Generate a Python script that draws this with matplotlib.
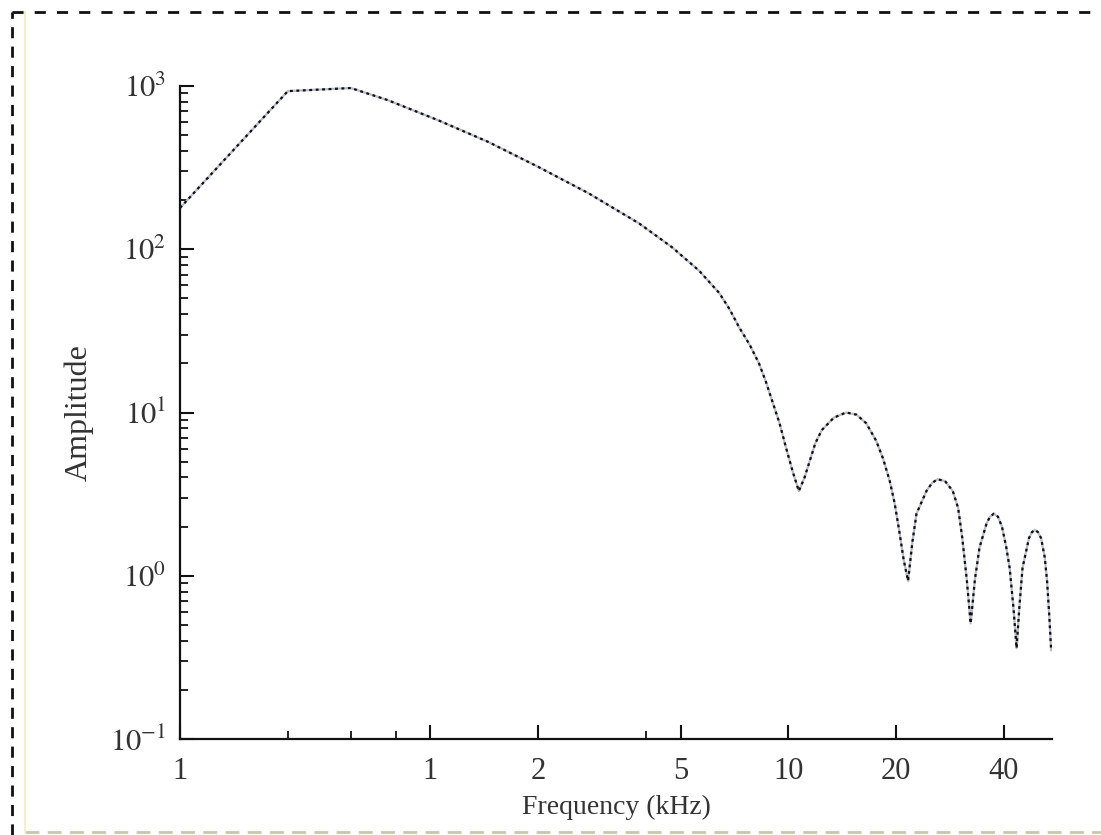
"""
Espectro de amplitud (log-log)
"""

import numpy as np
import matplotlib.pyplot as plt
from matplotlib.lines import Line2D

# datos
freq = [0.2, 0.4, 0.6, 0.76, 1.05, 1.45, 2.0, 2.77, 3.83, 4.73, 5.63,
        6.41, 6.85, 7.29, 7.8, 8.28, 8.65, 9.0, 9.45, 9.85, 10.3, 10.7,
        11.1, 11.9, 12.4, 13.4, 14.5, 15.5, 16.5, 17.6, 18.4, 19.2, 19.8, 20.4,
        21.0, 21.6, 22.2, 22.8, 24.3, 25.2, 26.1, 27.4, 28.8, 29.8, 30.6, 31.5,
        32.3, 33.2, 34.2, 35.8, 36.6, 37.5, 38.5, 39.5, 40.6, 41.5, 42.5, 43.4,
        44.2, 45.1, 47.0, 47.9, 48.8, 49.8, 50.8, 52.0, 52.8, 53.6, 54.2]
amp = [179, 930, 972, 820, 618, 455, 320, 220, 144, 103, 74,
       54, 43, 33.2, 26, 20, 15.5, 11.9, 8.6, 6.1, 4.3, 3.3,
       4.0, 6.5, 7.8, 9.3, 10.0, 9.7, 8.6, 6.7, 5.2, 3.8, 2.8, 1.89,
       1.25, 0.93, 1.6, 2.4, 3.3, 3.7, 3.9, 3.8, 3.3, 2.6, 1.71, 0.95,
       0.51, 0.95, 1.49, 2.1, 2.3, 2.4, 2.3, 2.0, 1.5, 1.12, 0.65, 0.36,
       0.65, 1.12, 1.7, 1.85, 1.91, 1.85, 1.7, 1.3, 0.93, 0.55, 0.35]

xticks = [0.2, 1, 2, 5, 10, 20, 40]
xticklabels = ["1", "1", "2", "5", "10", "20", "40"]
xminor = [0.4, 0.6, 0.8, 4]

plt.rcParams['font.family'] = ['Liberation Serif', 'DejaVu Serif']
plt.rcParams['mathtext.fontset'] = 'stix'

fig = plt.figure(figsize=(11.01, 8.35), dpi=100)
ax = fig.add_axes([180/1101, 1-739/835, (1052-180)/1101, (739-86)/835])

ax.plot(freq, amp, color='#b9bccb', lw=1.6)
ax.plot(freq, amp, color='#111111', lw=1.6, dashes=(1.3, 1.6))

ax.set_xscale('log')
ax.set_yscale('log')
ax.set_xlim(0.2, 54.5)
ax.set_ylim(0.1, 1000)

ax.set_xticks(xticks)
ax.set_xticklabels(xticklabels)
ax.set_xticks(xminor, minor=True)
ax.set_xticklabels([], minor=True)
ax.set_yticks([0.1, 1, 10, 100, 1000])
ax.set_yticklabels([r'$10^{-1}$', r'$10^{0}$', r'$10^{1}$', r'$10^{2}$', r'$10^{3}$'])

ax.tick_params(which='both', direction='in', colors='#111111', labelcolor='#333333',
               labelsize=22, top=False, right=False)
ax.tick_params(which='major', length=10, width=1.5)
ax.tick_params(which='minor', length=6, width=1.3)
ax.tick_params(axis='x', pad=13)
ax.tick_params(axis='y', pad=10)

for s in ['top', 'right']:
    ax.spines[s].set_visible(False)
for s in ['left', 'bottom']:
    ax.spines[s].set_linewidth(1.6)
    ax.spines[s].set_color('#111111')

ax.set_xlabel("Frequency (kHz)", fontsize=20, color='#333333', labelpad=6)
ax.set_ylabel("Amplitude", fontsize=23, color='#333333', labelpad=12)

# borde discontinuo
W, H = 1101, 835
fig.add_artist(Line2D([12/W, 1], [1-12/H, 1-12/H], transform=fig.transFigure,
                      color='#111111', lw=2, dashes=(4, 4)))
fig.add_artist(Line2D([12/W, 12/W], [0, 1-12/H], transform=fig.transFigure,
                      color='#111111', lw=2, dashes=(4, 3)))
fig.add_artist(Line2D([25/W, 1], [3/H, 3/H], transform=fig.transFigure,
                      color='#c8c8b0', lw=2, dashes=(5, 3)))
fig.add_artist(Line2D([25/W, 25/W], [3/H, 1-12/H], transform=fig.transFigure,
                      color='#f3efc8', lw=1.5))

fig.savefig('out.png', dpi=100)
